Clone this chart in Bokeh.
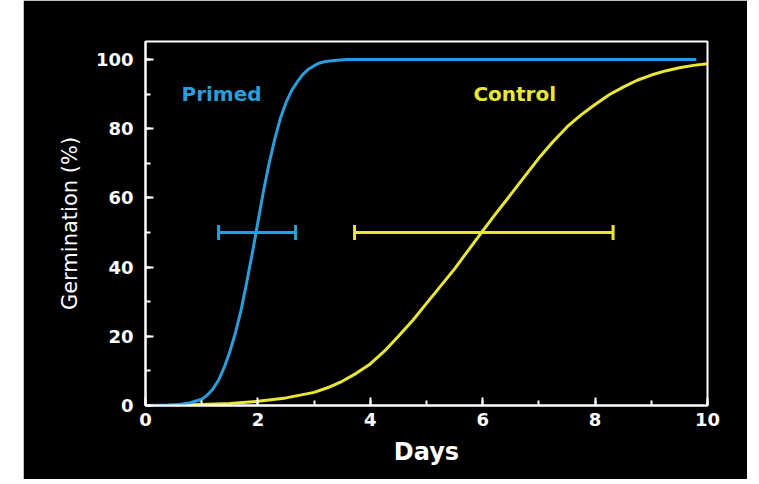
from bokeh.plotting import figure
from bokeh.models import Range1d, SingleIntervalTicker, Spacer, Label
from bokeh.layouts import row
from bokeh.embed import file_html
from bokeh.resources import INLINE

# ---- data ----
primed_days = [0, 0.2, 0.4, 0.6, 0.8, 1.0, 1.1, 1.2, 1.3, 1.4, 1.5, 1.6, 1.7, 1.8,
               1.9, 2.0, 2.1, 2.2, 2.3, 2.4, 2.5, 2.6, 2.7, 2.8, 2.9, 3.0, 3.1,
               3.2, 3.4, 3.6, 4.0, 5.0, 6.0, 7.0, 8.0, 9.0, 9.8]
primed_germ = [0, 0, 0.1, 0.3, 0.8, 1.8, 3.0, 4.8, 7.3, 11, 15.5, 21, 27.5, 35.5,
               44, 53, 62, 70, 77, 83, 87.5, 91, 93.5, 95.7, 97.2, 98.2, 99,
               99.4, 99.8, 100, 100, 100, 100, 100, 100, 100, 100]

control_days = [0, 0.5, 1.0, 1.5, 2.0, 2.5, 3.0, 3.25, 3.5, 3.75, 4.0, 4.25, 4.5,
                4.75, 5.0, 5.25, 5.5, 5.75, 6.0, 6.25, 6.5, 6.75, 7.0, 7.25, 7.5,
                7.75, 8.0, 8.25, 8.5, 8.75, 9.0, 9.25, 9.5, 9.75, 10.0]
control_germ = [0, 0.1, 0.3, 0.6, 1.2, 2.2, 3.8, 5.2, 7, 9.3, 12, 15.7, 20,
                24.5, 29.5, 34.5, 39.5, 45, 50.5, 55.8, 61, 66.3, 71.5, 76.2, 80.5,
                84, 87, 89.8, 92, 94, 95.5, 96.7, 97.6, 98.3, 98.8]

# error bars at 50 %
primed_bar = [1.30, 2.67]
control_bar = [3.72, 8.32]
bar_level = 50

x_ticks_interval = 2
y_ticks_interval = 20

BLUE = "#2a9edb"
YELLOW = "#e8e834"
FONT = "DejaVu Sans"

p = figure(frame_width=562, frame_height=364,
           min_border_left=122, min_border_right=40,
           min_border_top=41, min_border_bottom=74,
           x_range=Range1d(0, 10), y_range=Range1d(0, 105.2),
           output_backend="svg", toolbar_location=None)

p.background_fill_color = "black"
p.border_fill_color = "black"
p.outline_line_color = "white"
p.outline_line_width = 2
p.grid.visible = False

p.xaxis.ticker = SingleIntervalTicker(interval=x_ticks_interval, num_minor_ticks=2)
p.yaxis.ticker = SingleIntervalTicker(interval=y_ticks_interval, num_minor_ticks=2)

for ax in (p.xaxis, p.yaxis):
    ax.axis_line_color = "white"
    ax.axis_line_width = 2
    ax.major_tick_line_color = "white"
    ax.minor_tick_line_color = "white"
    ax.major_tick_line_width = 2
    ax.minor_tick_line_width = 2
    ax.major_tick_in = 8
    ax.major_tick_out = 0
    ax.minor_tick_in = 5
    ax.minor_tick_out = 0
    ax.major_label_text_color = "white"
    ax.major_label_text_font = FONT
    ax.major_label_text_font_style = "bold"
    ax.major_label_text_font_size = "18px"
    ax.axis_label_text_color = "white"
    ax.axis_label_text_font = FONT

p.xaxis.major_label_standoff = 7
p.yaxis.major_label_standoff = 12
p.xaxis.axis_label = "Days"
p.xaxis.axis_label_text_font_size = "24px"
p.xaxis.axis_label_text_font_style = "bold"
p.xaxis.axis_label_standoff = 9
p.yaxis.axis_label = "Germination (%)"
p.yaxis.axis_label_text_font_size = "21px"
p.yaxis.axis_label_text_font_style = "normal"
p.yaxis.axis_label_standoff = 11

# curves
p.line(control_days, control_germ, line_color=YELLOW, line_width=3, line_join="round")
p.line(primed_days, primed_germ, line_color=BLUE, line_width=3, line_join="round")

# error bars
for bar, col in ((primed_bar, BLUE), (control_bar, YELLOW)):
    p.segment(x0=[bar[0]], y0=[bar_level], x1=[bar[1]], y1=[bar_level],
              line_color=col, line_width=3)
    p.scatter(x=bar, y=[bar_level, bar_level], marker="dash", angle=1.5708,
              size=15, line_color=col, line_width=3)

# labels
p.add_layout(Label(x=0.64, y=90, text="Primed", text_color=BLUE,
                   text_font=FONT, text_font_style="bold", text_font_size="20px",
                   text_baseline="middle"))
p.add_layout(Label(x=6.57, y=90, text="Control", text_color=YELLOW,
                   text_font=FONT, text_font_style="bold", text_font_size="20px",
                   text_baseline="middle", text_align="center"))

layout = row(Spacer(width=23, height=479), p)
open("out.html", "w").write(file_html(layout, INLINE))
